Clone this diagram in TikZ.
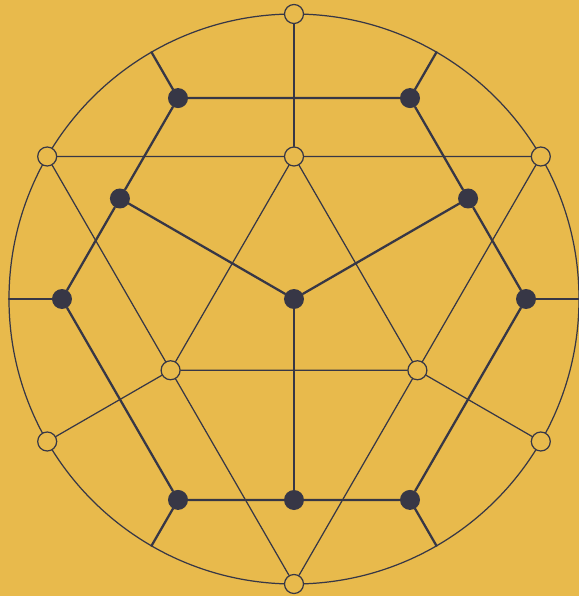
\documentclass[tikz,border=0pt]{standalone}
\definecolor{paper}{RGB}{232,186,76}
\definecolor{ink}{RGB}{55,55,70}
\begin{document}
\begin{tikzpicture}[line cap=round,
    opennode/.style={circle, draw=ink, fill=paper, line width=0.7pt, inner sep=0pt, minimum size=0.38cm},
    darknode/.style={circle, fill=ink, inner sep=0pt, minimum size=0.4cm},
    thinline/.style={draw=ink, line width=0.7pt},
    thickline/.style={draw=ink, line width=1.3pt}]
    % Background
    \fill[paper] (-5.88,-5.94) rectangle (5.70,5.98);
    \useasboundingbox (-5.88,-5.94) rectangle (5.70,5.98);

    % Outer circle
    \draw[thinline] (0,0) circle (5.7);

    % Open nodes (rim and inner triangle)
    \node[opennode] (o90) at (90:5.7) {};
    \node[opennode] (o30) at (30:5.7) {};
    \node[opennode] (o150) at (150:5.7) {};
    \node[opennode] (o210) at (210:5.7) {};
    \node[opennode] (o330) at (330:5.7) {};
    \node[opennode] (o270) at (270:5.7) {};
    \node[opennode] (i90) at (90:2.85) {};
    \node[opennode] (i210) at (210:2.85) {};
    \node[opennode] (i330) at (330:2.85) {};

    % Dark nodes (hexagon, midpoints, centre)
    \node[darknode] (ctr) at (0,0) {};
    \node[darknode] (m30) at (30:4.02) {};
    \node[darknode] (m150) at (150:4.02) {};
    \node[darknode] (m270) at (270:4.02) {};
    \node[darknode] (h0) at (0:4.64) {};
    \node[darknode] (h60) at (60:4.64) {};
    \node[darknode] (h120) at (120:4.64) {};
    \node[darknode] (h180) at (180:4.64) {};
    \node[darknode] (h240) at (240:4.64) {};
    \node[darknode] (h300) at (300:4.64) {};

    % Rim points for the spokes
    \coordinate (r0) at (0:5.7);
    \coordinate (r60) at (60:5.7);
    \coordinate (r120) at (120:5.7);
    \coordinate (r180) at (180:5.7);
    \coordinate (r240) at (240:5.7);
    \coordinate (r300) at (300:5.7);

    % Big triangle through the inner nodes
    \draw[thinline] (o150) -- (i90) -- (o30);
    \draw[thinline] (o150) -- (i210) -- (o270);
    \draw[thinline] (o30) -- (i330) -- (o270);

    % Inner triangle and its spokes
    \draw[thinline] (i90) -- (i210) -- (i330) -- (i90);
    \draw[thinline] (o90) -- (i90);
    \draw[thinline] (o210) -- (i210);
    \draw[thinline] (o330) -- (i330);

    % Hexagon
    \draw[thickline] (h60) -- (h120) -- (m150) -- (h180) -- (h240) -- (m270) -- (h300) -- (h0) -- (m30) -- (h60);

    % Centre to midpoints
    \draw[thickline] (ctr) -- (m30);
    \draw[thickline] (ctr) -- (m150);
    \draw[thickline] (ctr) -- (m270);

    % Hexagon to rim
    \draw[thickline] (h0) -- (r0);
    \draw[thickline] (h60) -- (r60);
    \draw[thickline] (h120) -- (r120);
    \draw[thickline] (h180) -- (r180);
    \draw[thickline] (h240) -- (r240);
    \draw[thickline] (h300) -- (r300);

\end{tikzpicture}
\end{document}
